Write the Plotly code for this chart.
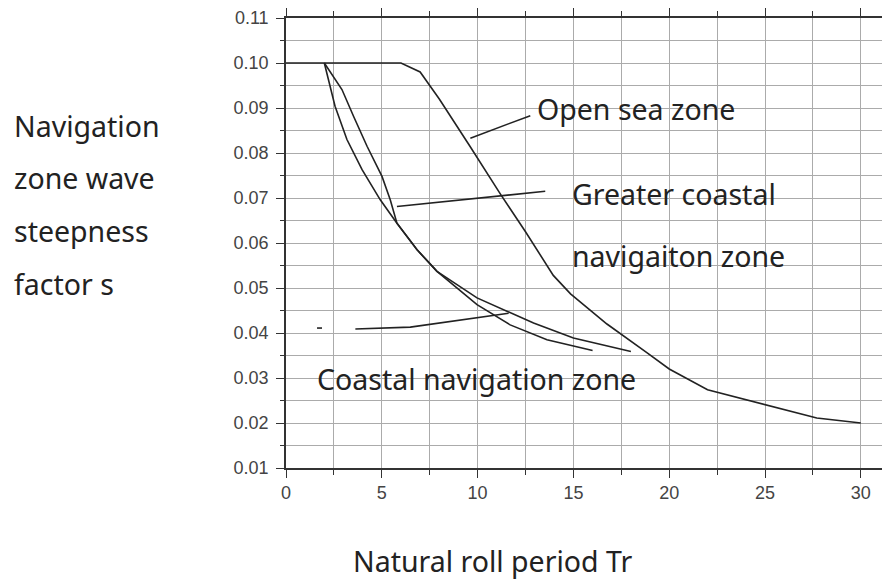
import plotly.graph_objects as go

# Data
open_sea_x = [0, 6, 7, 8, 9.6, 11.2, 12.5, 13.95, 14.85, 16.75, 18.85, 20, 22, 25, 27.7, 30]
open_sea_y = [0.100, 0.100, 0.098, 0.092, 0.0815, 0.0708, 0.0625, 0.0528, 0.0487, 0.042, 0.0356, 0.032, 0.0274, 0.0241, 0.0211, 0.020]

greater_x = [2, 2.92, 3.53, 4.23, 5.01, 5.44, 5.79, 6.84, 7.88, 9.97, 12.92, 15.0, 18.0]
greater_y = [0.100, 0.0941, 0.0881, 0.0815, 0.0748, 0.0696, 0.0644, 0.0585, 0.0537, 0.0478, 0.0422, 0.0389, 0.0359]

coastal_x = [2, 2.56, 3.18, 3.97, 4.92, 5.79, 6.84, 7.88, 9.97, 11.7, 13.62, 16.0]
coastal_y = [0.100, 0.0904, 0.0830, 0.0763, 0.0696, 0.0644, 0.0585, 0.0537, 0.0463, 0.0418, 0.0385, 0.0361]

# Leader lines for labels
lead_open_x = [9.62, 12.75]
lead_open_y = [0.0833, 0.0883]
lead_greater_x = [5.79, 13.53]
lead_greater_y = [0.0681, 0.0715]
lead_coastal_x = [1.62, 1.88, None, 3.62, 6.49, 11.62]
lead_coastal_y = [0.0411, 0.0411, None, 0.0409, 0.0413, 0.0444]

labels = ["Open sea zone", "Greater coastal", "navigaiton zone", "Coastal navigation zone"]
label_x = [13.01, 14.84, 14.84, 1.49]
label_y = [0.0898, 0.0710, 0.0572, 0.0298]

y_title_lines = ["Navigation", "zone wave", "steepness", "factor s"]
x_title = "Natural roll period Tr"

line_color = "#222222"
grid_color = "#ababab"
axis_color = "#333333"
text_font = "Noto Sans"
text_size = 28.5

fig = go.Figure()
for xs, ys in [(open_sea_x, open_sea_y), (greater_x, greater_y), (coastal_x, coastal_y),
               (lead_open_x, lead_open_y), (lead_greater_x, lead_greater_y),
               (lead_coastal_x, lead_coastal_y)]:
    fig.add_trace(go.Scatter(x=xs, y=ys, mode="lines", showlegend=False,
                             line=dict(color=line_color, width=1.6), hoverinfo="skip"))

# invisible trace for the top axis
fig.add_trace(go.Scatter(x=[0], y=[0.05], xaxis="x2", mode="markers",
                         marker=dict(opacity=0), showlegend=False, hoverinfo="skip"))

tick_font = dict(family="Liberation Sans, Arial", size=18, color="#444444")
x_range = [0, 31.94]

fig.update_layout(
    width=890, height=572,
    margin=dict(l=278, r=0, t=10, b=112),
    paper_bgcolor="white", plot_bgcolor="white",
    font=dict(family=text_font, color="#222222"),
    xaxis=dict(range=x_range, tick0=0, dtick=5, ticks="outside", ticklen=8,
               tickcolor=axis_color, tickwidth=1.2,
               showline=True, linecolor=axis_color, linewidth=1.6,
               showgrid=True, gridcolor=grid_color, gridwidth=1, zeroline=False,
               tickfont=tick_font,
               minor=dict(dtick=2.5, ticks="outside", ticklen=5, tickcolor=axis_color,
                          showgrid=True, gridcolor=grid_color, gridwidth=1)),
    xaxis2=dict(range=x_range, overlaying="x", side="top", anchor="y",
                tick0=0, dtick=5, ticks="outside", ticklen=8, tickcolor=axis_color,
                tickwidth=1.2, showticklabels=False,
                showline=True, linecolor=axis_color, linewidth=1.6,
                showgrid=False, zeroline=False,
                minor=dict(dtick=2.5, ticks="outside", ticklen=5, tickcolor=axis_color,
                           showgrid=False)),
    yaxis=dict(range=[0.01, 0.11], tick0=0.01, dtick=0.01, tickformat=".2f",
               ticks="outside", ticklen=8, tickcolor=axis_color, tickwidth=1.2,
               ticklabelstandoff=4,
               showline=True, linecolor=axis_color, linewidth=1.6,
               showgrid=True, gridcolor=grid_color, gridwidth=1, zeroline=False,
               tickfont=tick_font,
               minor=dict(dtick=0.005, ticks="outside", ticklen=4, tickcolor=axis_color,
                          showgrid=True, gridcolor=grid_color, gridwidth=1)),
)

for t, x, y in zip(labels, label_x, label_y):
    fig.add_annotation(x=x, y=y, xref="x", yref="y", text=t, showarrow=False,
                       xanchor="left", yanchor="middle",
                       font=dict(family=text_font, size=text_size, color="#222222"))

y_title_pos = [0.7607, 0.6451, 0.5273, 0.4096]
for t, y in zip(y_title_lines, y_title_pos):
    fig.add_annotation(x=-0.4477, y=y, xref="paper", yref="paper", text=t, showarrow=False,
                       xanchor="left", yanchor="middle",
                       font=dict(family=text_font, size=text_size, color="#222222"))

fig.add_annotation(x=0.3374, y=-0.206, xref="paper", yref="paper", text=x_title,
                   showarrow=False, xanchor="center", yanchor="middle",
                   font=dict(family=text_font, size=text_size, color="#222222"))

fig.write_html("out.html")
